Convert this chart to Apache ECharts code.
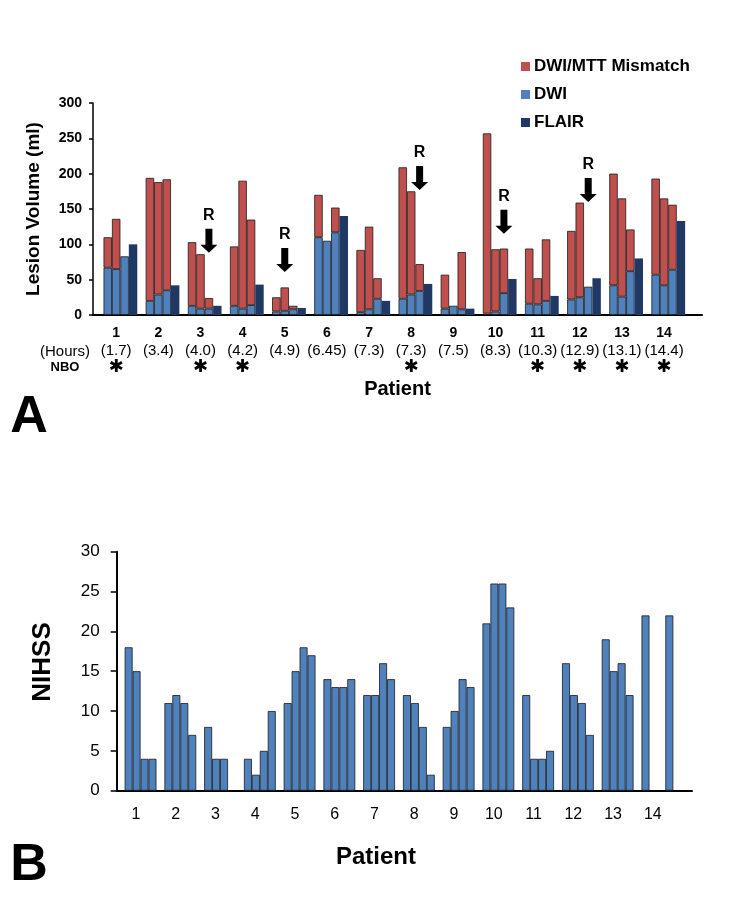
<!DOCTYPE html>
<html>
<head>
<meta charset="utf-8">
<script src="https://cdn.jsdelivr.net/npm/echarts@6/dist/echarts.min.js"></script>
<style>html,body{margin:0;padding:0;background:#fff}#c{width:750px;height:900px}</style>
</head>
<body>
<div id="c"></div>
<script>
// ---------- data ----------
const patients = [1, 2, 3, 4, 5, 6, 7, 8, 9, 10, 11, 12, 13, 14];
const hours = ['1.7', '3.4', '4.0', '4.2', '4.9', '6.45', '7.3', '7.3', '7.5', '8.3', '10.3', '12.9', '13.1', '14.4'];
const nbo = [1, 0, 1, 1, 0, 0, 0, 1, 0, 0, 1, 1, 1, 1];

// Panel A: lesion volumes (ml), three MRI timepoints + FLAIR
const dwiT1 = [67, 20, 13, 13, 5, 110, 4, 23, 9, 2, 16, 22, 42, 57];
const dwiT2 = [65, 29, 9, 9, 6, 105, 8, 29, 13, 5, 15, 25, 26, 42];
const dwiT3 = [83, 35, 9, 14, 8, 117, 23, 34, 8, 31, 20, 40, 62, 64];
const mismatchT1 = [43, 174, 90, 84, 20, 60, 88, 186, 48, 255, 78, 97, 158, 136];
const mismatchT2 = [71, 159, 77, 181, 33, null, 117, 146, null, 88, 37, 134, 139, 123];
const mismatchT3 = [null, 157, 15, 121, 5, 35, 29, 38, 81, 63, 87, null, 59, 92];
const flair = [100, 42, 13, 43, 10, 140, 20, 44, 9, 51, 27, 52, 80, 133];

// Reperfusion ("R") arrows: patient, timepoint bar, volume at arrow tip
const rArrows = [
  {patient: 3, timepoint: 3, volume: 88},
  {patient: 5, timepoint: 2, volume: 61},
  {patient: 8, timepoint: 3, volume: 177},
  {patient: 10, timepoint: 3, volume: 115},
  {patient: 12, timepoint: 3, volume: 160}
];

// Panel B: NIHSS at four timepoints
const nihssT1 = [18, 11, 8, 4, 11, 14, 12, 12, 8, 21, 12, 16, 19, 22];
const nihssT2 = [15, 12, 4, 2, 15, 13, 12, 11, 10, 26, 4, 12, 15, null];
const nihssT3 = [4, 11, 4, 5, 18, 13, 16, 8, 14, 26, 4, 11, 16, null];
const nihssT4 = [4, 7, null, 10, 17, 14, 14, 2, 13, 23, 5, 7, 12, 22];

const yTicksA = {min: 0, max: 300, interval: 50};
const yTicksB = {min: 0, max: 30, interval: 5};

// ---------- chart ----------
const F = 'Liberation Sans, Arial, Helvetica, sans-serif';
const RED = '#C0504D', BLUE = '#4F81BD', NAVY = '#1F3864';
const edge = {borderColor: '#1a1a1a', borderWidth: 0.8};
// [value, patient] so that the value dimension is the one stacked
const pairs = arr => arr.map((v, i) => [v, patients[i]]);
const ARROW = 'path://M5,0 L12,0 L12,16 L17,16 L8.5,24 L0,16 L5,16 Z';

const wA = 8.43, wB = 7.95;
function barA(name, stack, data, color, withEdge) {
  const s = {type: 'bar', name, data: pairs(data), encode: {x: 1, y: 0}, xAxisIndex: 0, yAxisIndex: 0,
    barWidth: wA, barGap: '0%', itemStyle: Object.assign({color}, withEdge ? edge : {borderWidth: 0})};
  if (stack) s.stack = stack;
  return s;
}
function barB(data) {
  return {type: 'bar', name: 'NIHSS', data: pairs(data), encode: {x: 1, y: 0}, xAxisIndex: 1, yAxisIndex: 1,
    barWidth: wB, barGap: '0%', itemStyle: Object.assign({color: BLUE}, edge)};
}

const arrowSeries = {
  type: 'scatter', name: 'R', data: [], xAxisIndex: 0, yAxisIndex: 0, silent: true,
  markPoint: {
    symbol: ARROW, symbolSize: [17, 24], symbolOffset: [0, -12],
    itemStyle: {color: '#000'},
    label: {show: true, position: 'top', distance: 5, formatter: 'R', fontSize: 16, fontWeight: 'bold', color: '#000', fontFamily: F},
    data: rArrows.map(a => ({coord: [a.patient + (a.timepoint - 2.5) * 0.2, a.volume]}))
  }
};

const option = {
  animation: false,
  backgroundColor: '#fff',
  textStyle: {fontFamily: F},
  legend: {
    data: ['DWI/MTT Mismatch', 'DWI', 'FLAIR'],
    orient: 'vertical', left: 521, top: 58, padding: 0,
    itemWidth: 9, itemHeight: 9, itemGap: 11, icon: 'rect',
    itemStyle: {borderWidth: 0},
    textStyle: {fontSize: 17, fontWeight: 'bold', color: '#000', fontFamily: F, padding: [0, 0, 0, -1]}
  },
  grid: [
    {left: 93, right: 48, top: 103, height: 212, outerBoundsMode: 'none'},
    {left: 116.7, right: 58, top: 551.7, height: 239, outerBoundsMode: 'none'}
  ],
  xAxis: [
    {
      type: 'value', gridIndex: 0, min: 0.35, max: 14.8,
      axisLine: {show: true, onZero: false, lineStyle: {color: '#000', width: 2}},
      axisTick: {show: false}, splitLine: {show: false},
      axisLabel: {
        customValues: patients.map(p => p - 0.1), margin: 8.5,
        formatter: v => {
          const i = Math.round(v + 0.1) - 1;
          return '{p|' + patients[i] + '}\n{h|(' + hours[i] + ')}\n{n|' + (nbo[i] ? '\u2731' : ' ') + '}';
        },
        rich: {
          p: {fontSize: 14, fontWeight: 'bold', lineHeight: 19, color: '#000', fontFamily: F},
          h: {fontSize: 15, lineHeight: 17, color: '#000', fontFamily: F},
          n: {fontSize: 18, fontWeight: 'bold', lineHeight: 15, color: '#000', fontFamily: 'DejaVu Sans'}
        }
      },
      name: 'Patient', nameLocation: 'middle', nameGap: 64,
      nameTextStyle: {fontSize: 20, fontWeight: 'bold', color: '#000', fontFamily: F}
    },
    {
      type: 'value', gridIndex: 1, min: 0.4, max: 14.87,
      axisLine: {show: true, onZero: false, lineStyle: {color: '#000', width: 2}},
      axisTick: {show: false}, splitLine: {show: false},
      axisLabel: {
        customValues: patients.map(p => p - 0.115), margin: 16,
        formatter: v => String(patients[Math.round(v + 0.115) - 1]),
        fontSize: 16, color: '#000', fontFamily: F
      }
    }
  ],
  yAxis: [
    Object.assign({
      type: 'value', gridIndex: 0,
      axisLine: {show: true, lineStyle: {color: '#000', width: 1.5}},
      axisTick: {show: true, length: 4, lineStyle: {color: '#000', width: 1.5}},
      axisLabel: {fontSize: 14, fontWeight: 'bold', color: '#000', margin: 11, fontFamily: F},
      splitLine: {show: false},
      name: 'Lesion Volume (ml)', nameLocation: 'middle', nameGap: 50,
      nameTextStyle: {fontSize: 19, fontWeight: 'bold', color: '#000', fontFamily: F}
    }, yTicksA),
    Object.assign({
      type: 'value', gridIndex: 1,
      axisLine: {show: true, lineStyle: {color: '#000', width: 2}},
      axisTick: {show: true, length: 6, lineStyle: {color: '#000', width: 1.5}},
      axisLabel: {fontSize: 17, color: '#000', margin: 17, fontFamily: F},
      splitLine: {show: false}
    }, yTicksB)
  ],
  graphic: [
    {type: 'text', x: 65, y: 352, style: {text: '(Hours)', font: '15px ' + F, fill: '#000', align: 'center', verticalAlign: 'middle', textAlign: 'center', textVerticalAlign: 'middle'}},
    {type: 'text', x: 65, y: 367.5, style: {text: 'NBO', font: 'bold 13px ' + F, fill: '#000', align: 'center', verticalAlign: 'middle', textAlign: 'center', textVerticalAlign: 'middle'}},
    {type: 'text', x: 29, y: 418, style: {text: 'A', font: 'bold 52px ' + F, fill: '#000', align: 'center', verticalAlign: 'middle', textAlign: 'center', textVerticalAlign: 'middle'}},
    {type: 'text', x: 29, y: 866, style: {text: 'B', font: 'bold 52px ' + F, fill: '#000', align: 'center', verticalAlign: 'middle', textAlign: 'center', textVerticalAlign: 'middle'}},
    {type: 'text', x: 376, y: 857, style: {text: 'Patient', font: 'bold 24px ' + F, fill: '#000', align: 'center', verticalAlign: 'middle', textAlign: 'center', textVerticalAlign: 'middle'}},
    {type: 'text', x: 43, y: 662, rotation: Math.PI / 2, style: {text: 'NIHSS', font: 'bold 26px ' + F, fill: '#000', align: 'center', verticalAlign: 'middle', textAlign: 'center', textVerticalAlign: 'middle'}}
  ],
  series: [
    barA('DWI', 't1', dwiT1, BLUE, true),
    barA('DWI/MTT Mismatch', 't1', mismatchT1, RED, true),
    barA('DWI', 't2', dwiT2, BLUE, true),
    barA('DWI/MTT Mismatch', 't2', mismatchT2, RED, true),
    barA('DWI', 't3', dwiT3, BLUE, true),
    barA('DWI/MTT Mismatch', 't3', mismatchT3, RED, true),
    barA('FLAIR', null, flair, NAVY, false),
    arrowSeries,
    barB(nihssT1), barB(nihssT2), barB(nihssT3), barB(nihssT4)
  ]
};

const chart = echarts.init(document.getElementById('c'), null, {renderer: 'canvas'});
chart.setOption(option);
</script>
</body>
</html>
